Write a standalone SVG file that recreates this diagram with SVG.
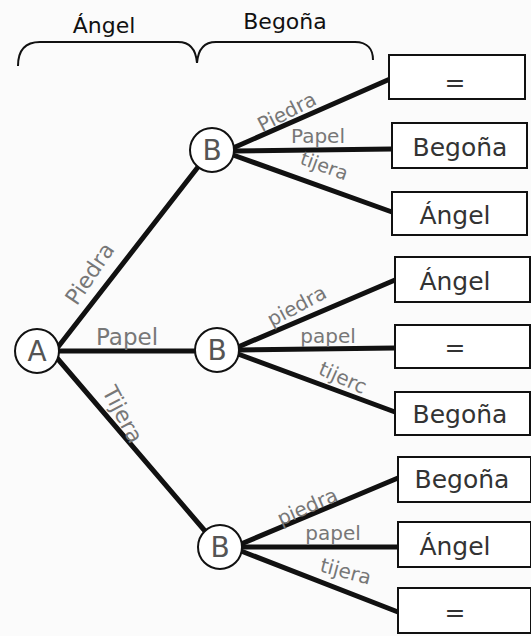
<svg xmlns="http://www.w3.org/2000/svg" width="531" height="636" viewBox="0 0 531 636">
<style>
.edge{stroke:#111;stroke-width:5;stroke-linecap:round;fill:none}
.node circle{fill:#fff;stroke:#111;stroke-width:2}
.node text{font-family:"DejaVu Sans",sans-serif;font-size:28px;fill:#555;text-anchor:middle}
.leaf rect{fill:#fff;stroke:#111;stroke-width:2}
.leaf text{font-family:"DejaVu Sans",sans-serif;font-size:25px;fill:#333;text-anchor:middle}
.lbl{font-family:"DejaVu Sans",sans-serif;fill:#777;text-anchor:middle}
.hdr{font-family:"DejaVu Sans",sans-serif;font-size:22px;fill:#111;text-anchor:middle}
.brace{stroke:#111;stroke-width:2;fill:none}
</style>
<rect width="531" height="636" fill="#fbfbfb"/>
<g id="header">
<text class="hdr" x="104" y="33">Ángel</text>
<text class="hdr" x="285" y="29">Begoña</text>
<path class="brace" d="M18,66 C18,50 25,42 40,42 L178,42 C190,42 196,50 197,63 C198,50 204,42 216,42 L355,42 C368,42 373,50 373,60"/>
</g>
<g id="connectors">
<line class="edge" x1="58" y1="347" x2="198" y2="167"/>
<line class="edge" x1="59" y1="351" x2="195" y2="351"/>
<line class="edge" x1="57" y1="358" x2="205" y2="531"/>
<line class="edge" x1="233" y1="148" x2="390" y2="79"/>
<line class="edge" x1="234" y1="151" x2="392" y2="149"/>
<line class="edge" x1="233" y1="155" x2="392" y2="212"/>
<line class="edge" x1="238" y1="347" x2="395" y2="280"/>
<line class="edge" x1="239" y1="350" x2="395" y2="348"/>
<line class="edge" x1="238" y1="354" x2="395" y2="412"/>
<line class="edge" x1="241" y1="544" x2="398" y2="478"/>
<line class="edge" x1="242" y1="547" x2="398" y2="547"/>
<line class="edge" x1="241" y1="551" x2="398" y2="612"/>
<text class="lbl" font-size="22" transform="translate(96,278) rotate(-56)">Piedra</text>
<text class="lbl" font-size="23" x="127" y="345">Papel</text>
<text class="lbl" font-size="22" transform="translate(116,418) rotate(62)">Tijera</text>
<text class="lbl" font-size="20" transform="translate(290,118) rotate(-27)">Piedra</text>
<text class="lbl" font-size="20" x="318" y="143">Papel</text>
<text class="lbl" font-size="19" transform="translate(322,172) rotate(20)">tijera</text>
<text class="lbl" font-size="20" transform="translate(300,312) rotate(-28)">piedra</text>
<text class="lbl" font-size="20" x="328" y="343">papel</text>
<text class="lbl" font-size="20" transform="translate(340,384) rotate(24)">tijerc</text>
<text class="lbl" font-size="20" transform="translate(310,513) rotate(-24)">piedra</text>
<text class="lbl" font-size="20" x="333" y="540">papel</text>
<text class="lbl" font-size="20" transform="translate(344,578) rotate(15)">tijera</text>
</g>
<g id="A" class="node"><circle cx="37" cy="351" r="22"/><text x="37" y="361">A</text></g>
<g id="B1" class="node"><circle cx="212" cy="150" r="22"/><text x="212" y="160">B</text></g>
<g id="B2" class="node"><circle cx="217" cy="350" r="22"/><text x="217" y="360">B</text></g>
<g id="B3" class="node"><circle cx="220" cy="547" r="22"/><text x="220" y="557">B</text></g>
<g id="leaf1" class="leaf"><rect x="389" y="55" width="136" height="44"/><text x="455" y="91">=</text></g>
<g id="leaf2" class="leaf"><rect x="392" y="123" width="135" height="45"/><text x="460" y="156">Begoña</text></g>
<g id="leaf3" class="leaf"><rect x="392" y="192" width="135" height="43"/><text x="455" y="224">Ángel</text></g>
<g id="leaf4" class="leaf"><rect x="395" y="257" width="135" height="45"/><text x="455" y="290">Ángel</text></g>
<g id="leaf5" class="leaf"><rect x="395" y="325" width="135" height="43"/><text x="455" y="356">=</text></g>
<g id="leaf6" class="leaf"><rect x="395" y="392" width="135" height="43"/><text x="460" y="423">Begoña</text></g>
<g id="leaf7" class="leaf"><rect x="398" y="457" width="133" height="45"/><text x="462" y="488">Begoña</text></g>
<g id="leaf8" class="leaf"><rect x="398" y="522" width="133" height="45"/><text x="455" y="555">Ángel</text></g>
<g id="leaf9" class="leaf"><rect x="398" y="588" width="133" height="45"/><text x="455" y="621">=</text></g>
</svg>
